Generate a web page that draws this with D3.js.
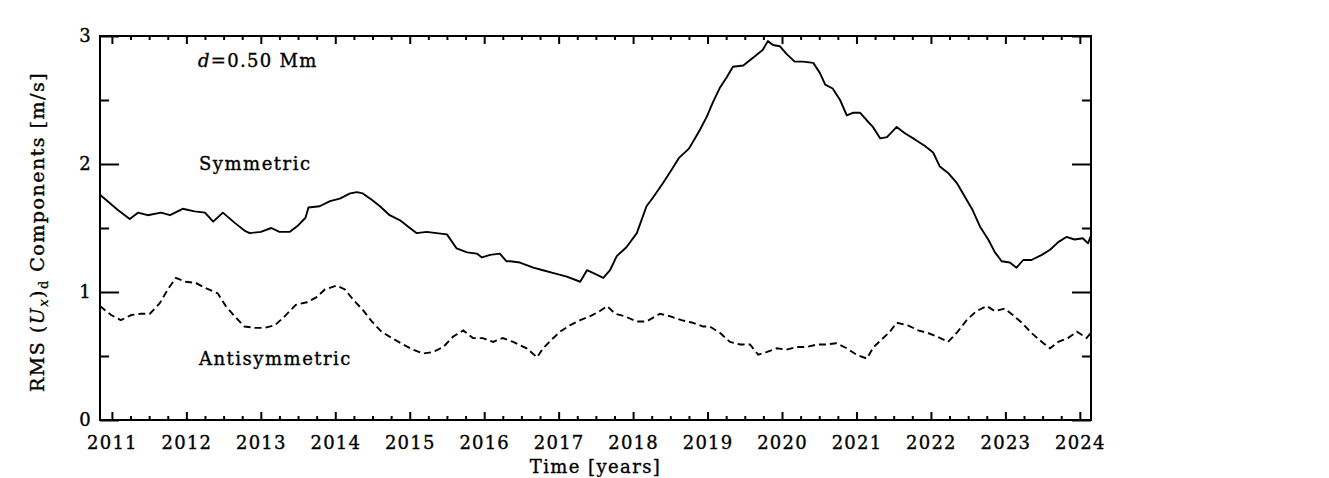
<!DOCTYPE html>
<html>
<head>
<meta charset="utf-8">
<script src="https://cdn.jsdelivr.net/npm/d3@7"></script>
<style>
  body { margin: 0; background: #fff; }
  svg text { font-family: "DejaVu Serif", serif; fill: #000; stroke: #000; stroke-width: 0.35px; }
</style>
</head>
<body>
<div id="chart"></div>
<script>
var W = 1329, H = 478;

// values (time in decimal years, RMS in m/s)
var symT = [2010.84, 2011.08, 2011.24, 2011.35, 2011.48, 2011.66, 2011.78, 2011.95, 2012.11, 2012.25,
            2012.36, 2012.49, 2012.65, 2012.78, 2012.85, 2013.00, 2013.14, 2013.25, 2013.39, 2013.50,
            2013.60, 2013.64, 2013.79, 2013.93, 2014.06, 2014.20, 2014.29, 2014.37, 2014.49, 2014.60,
            2014.73, 2014.87, 2014.98, 2015.09, 2015.23, 2015.36, 2015.50, 2015.63, 2015.77, 2015.90,
            2015.97, 2016.08, 2016.21, 2016.30, 2016.35, 2016.48, 2016.66, 2016.79, 2016.92, 2017.11,
            2017.29, 2017.38, 2017.46, 2017.60, 2017.69, 2017.78, 2017.91, 2018.05, 2018.18, 2018.27,
            2018.40, 2018.50, 2018.62, 2018.75, 2018.83, 2018.90, 2018.99, 2019.07, 2019.17, 2019.26,
            2019.34, 2019.48, 2019.61, 2019.74, 2019.81, 2019.88, 2019.97, 2020.06, 2020.17, 2020.28,
            2020.42, 2020.51, 2020.58, 2020.68, 2020.78, 2020.87, 2020.95, 2021.05, 2021.14, 2021.22,
            2021.32, 2021.41, 2021.54, 2021.65, 2021.79, 2021.92, 2022.03, 2022.12, 2022.23, 2022.35,
            2022.46, 2022.56, 2022.66, 2022.77, 2022.86, 2022.95, 2023.06, 2023.15, 2023.24, 2023.35,
            2023.49, 2023.60, 2023.71, 2023.82, 2023.93, 2024.04, 2024.11, 2024.15];
var symV = [1.76, 1.64, 1.57, 1.62, 1.60, 1.62, 1.60, 1.65, 1.63, 1.62,
            1.55, 1.62, 1.54, 1.48, 1.46, 1.47, 1.50, 1.47, 1.47, 1.52,
            1.58, 1.66, 1.67, 1.71, 1.73, 1.77, 1.78, 1.77, 1.72, 1.67,
            1.60, 1.56, 1.51, 1.46, 1.47, 1.46, 1.45, 1.34, 1.31, 1.30,
            1.27, 1.29, 1.30, 1.24, 1.24, 1.23, 1.19, 1.17, 1.15, 1.12,
            1.08, 1.17, 1.15, 1.11, 1.17, 1.28, 1.35, 1.46, 1.67, 1.74,
            1.85, 1.94, 2.05, 2.12, 2.20, 2.27, 2.37, 2.48, 2.60, 2.68,
            2.76, 2.77, 2.83, 2.89, 2.96, 2.93, 2.92, 2.86, 2.80, 2.80,
            2.79, 2.71, 2.62, 2.59, 2.50, 2.38, 2.40, 2.40, 2.34, 2.29,
            2.20, 2.21, 2.29, 2.24, 2.19, 2.14, 2.09, 1.98, 1.93, 1.85,
            1.74, 1.64, 1.51, 1.41, 1.31, 1.24, 1.23, 1.19, 1.25, 1.25,
            1.29, 1.33, 1.39, 1.43, 1.41, 1.42, 1.38, 1.44];

var antiT = [2010.84, 2010.99, 2011.12, 2011.26, 2011.39, 2011.51, 2011.64, 2011.75, 2011.86, 2011.99,
             2012.13, 2012.26, 2012.42, 2012.53, 2012.65, 2012.78, 2012.92, 2013.05, 2013.19, 2013.32,
             2013.47, 2013.62, 2013.75, 2013.86, 2014.02, 2014.13, 2014.24, 2014.37, 2014.49, 2014.62,
             2014.76, 2014.91, 2015.04, 2015.18, 2015.31, 2015.45, 2015.58, 2015.72, 2015.85, 2015.98,
             2016.12, 2016.25, 2016.39, 2016.57, 2016.71, 2016.79, 2016.91, 2017.02, 2017.15, 2017.29,
             2017.42, 2017.55, 2017.65, 2017.76, 2017.89, 2018.05, 2018.18, 2018.36, 2018.50, 2018.65,
             2018.80, 2018.94, 2019.03, 2019.17, 2019.30, 2019.44, 2019.57, 2019.68, 2019.79, 2019.93,
             2020.06, 2020.20, 2020.33, 2020.47, 2020.60, 2020.73, 2020.87, 2021.00, 2021.14, 2021.23,
             2021.34, 2021.45, 2021.54, 2021.69, 2021.83, 2021.96, 2022.09, 2022.23, 2022.36, 2022.48,
             2022.61, 2022.75, 2022.86, 2022.99, 2023.10, 2023.22, 2023.35, 2023.49, 2023.60, 2023.71,
             2023.84, 2023.96, 2024.04, 2024.09, 2024.15];
var antiV = [0.89, 0.82, 0.78, 0.82, 0.83, 0.83, 0.91, 1.02, 1.11, 1.08,
             1.07, 1.03, 0.99, 0.89, 0.81, 0.73, 0.72, 0.72, 0.74, 0.81,
             0.90, 0.92, 0.96, 1.02, 1.05, 1.02, 0.94, 0.86, 0.77, 0.69,
             0.64, 0.59, 0.55, 0.52, 0.53, 0.57, 0.65, 0.70, 0.64, 0.64,
             0.61, 0.64, 0.61, 0.56, 0.49, 0.56, 0.63, 0.69, 0.74, 0.78,
             0.81, 0.85, 0.89, 0.83, 0.81, 0.77, 0.77, 0.83, 0.81, 0.78,
             0.76, 0.73, 0.73, 0.68, 0.61, 0.59, 0.59, 0.51, 0.53, 0.56,
             0.55, 0.57, 0.57, 0.59, 0.59, 0.60, 0.56, 0.51, 0.48, 0.57,
             0.63, 0.69, 0.76, 0.74, 0.70, 0.68, 0.65, 0.61, 0.69, 0.78,
             0.85, 0.89, 0.85, 0.87, 0.82, 0.76, 0.68, 0.61, 0.56, 0.61,
             0.64, 0.69, 0.66, 0.64, 0.68];

var yearTicks = d3.range(2011, 2025);
var yTicks = [0, 1, 2, 3];

var margin = { left: 100, top: 36, right: 1329 - 1091, bottom: 478 - 420 },
    w = W - margin.left - margin.right,
    h = H - margin.top - margin.bottom;

var svg = d3.select('#chart')
            .append('svg')
            .attr('width', W)
            .attr('height', H);

var g = svg.append('g')
           .attr('transform', 'translate(' + margin.left + ',' + margin.top + ')');

var x = d3.scaleLinear().domain([2010.84, 2024.15]).range([0, w]),
    y = d3.scaleLinear().domain([0, 3]).range([h, 0]);

var minorX = d3.range(2010.75, 2024.2, 0.25).filter(function(t) { return t > 2010.84 && t < 2024.15 && Math.abs(t - Math.round(t)) > 0.01; }),
    minorY = [0.5, 1.5, 2.5];

function styleAxis(sel) {
  sel.select('.domain').remove();
  sel.selectAll('line').attr('stroke', '#000').attr('stroke-width', 2);
  sel.selectAll('text').attr('font-size', 18).attr('letter-spacing', 1.2).attr('fill', '#000');
}

// bottom, with labels
g.append('g').attr('transform', 'translate(0,' + h + ')')
  .call(d3.axisBottom(x).tickValues(yearTicks).tickSize(-8).tickPadding(16).tickFormat(d3.format('d')))
  .call(styleAxis);
g.append('g').attr('transform', 'translate(0,' + h + ')')
  .call(d3.axisBottom(x).tickValues(minorX).tickSize(-4).tickFormat(''))
  .call(styleAxis);
// top mirror
g.append('g')
  .call(d3.axisTop(x).tickValues(yearTicks).tickSize(-8).tickFormat(''))
  .call(styleAxis);
g.append('g')
  .call(d3.axisTop(x).tickValues(minorX).tickSize(-4).tickFormat(''))
  .call(styleAxis);
// left, with labels
g.append('g')
  .call(d3.axisLeft(y).tickValues(yTicks).tickSize(-19).tickPadding(8).tickFormat(d3.format('d')))
  .call(styleAxis);
g.append('g')
  .call(d3.axisLeft(y).tickValues(minorY).tickSize(-9).tickFormat(''))
  .call(styleAxis);
// right mirror
g.append('g').attr('transform', 'translate(' + w + ',0)')
  .call(d3.axisRight(y).tickValues(yTicks).tickSize(-19).tickFormat(''))
  .call(styleAxis);
g.append('g').attr('transform', 'translate(' + w + ',0)')
  .call(d3.axisRight(y).tickValues(minorY).tickSize(-9).tickFormat(''))
  .call(styleAxis);

// frame
g.append('rect')
  .attr('width', w).attr('height', h)
  .attr('fill', 'none').attr('stroke', '#000').attr('stroke-width', 2);

var line = d3.line()
             .x(function(d) { return x(d[0]); })
             .y(function(d) { return y(d[1]); });

g.append('path')
  .datum(d3.zip(symT, symV))
  .attr('d', line)
  .attr('fill', 'none').attr('stroke', '#000').attr('stroke-width', 1.9)
  .attr('stroke-linejoin', 'round');

g.append('path')
  .datum(d3.zip(antiT, antiV))
  .attr('d', line)
  .attr('fill', 'none').attr('stroke', '#000').attr('stroke-width', 1.9)
  .attr('stroke-dasharray', '7,4');

// labels inside plot
var lab = svg.append('text').attr('x', 198).attr('y', 67).attr('font-size', 18).attr('letter-spacing', 1.3);
lab.append('tspan').attr('font-style', 'italic').text('d');
lab.append('tspan').text('=0.50 Mm');

svg.append('text').attr('x', 199).attr('y', 170).attr('font-size', 18).attr('letter-spacing', 1.5).text('Symmetric');
svg.append('text').attr('x', 199).attr('y', 365).attr('font-size', 18).attr('letter-spacing', 1.5).text('Antisymmetric');

// axis titles
svg.append('text')
   .attr('x', margin.left + w / 2).attr('y', 473)
   .attr('text-anchor', 'middle').attr('font-size', 18).attr('letter-spacing', 1.4)
   .text('Time [years]');

var yl = svg.append('text')
            .attr('transform', 'translate(44,' + (margin.top + h / 2 + 4) + ') rotate(-90)')
            .attr('text-anchor', 'middle').attr('font-size', 19).attr('letter-spacing', 1.5);
yl.append('tspan').text('RMS (');
yl.append('tspan').attr('font-style', 'italic').text('U');
yl.append('tspan').attr('font-style', 'italic').attr('font-size', 13).attr('dy', 4).text('x');
yl.append('tspan').attr('dy', -4).text(')');
yl.append('tspan').attr('font-size', 13).attr('dy', 4).text('d');
yl.append('tspan').attr('dy', -4).text(' Components [m/s]');
</script>
</body>
</html>
